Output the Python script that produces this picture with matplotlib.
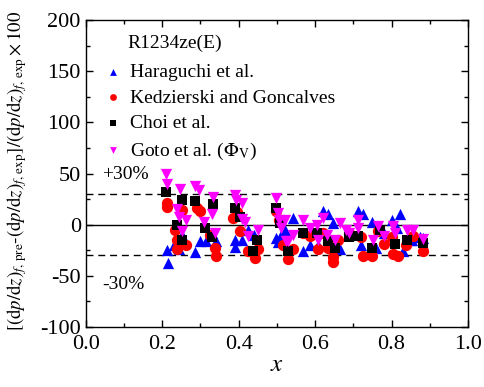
import numpy as np
from matplotlib import pyplot as plt
from matplotlib.ticker import MultipleLocator

plt.rcParams['font.family'] = ['Liberation Serif', 'DejaVu Serif']
plt.rcParams['mathtext.fontset'] = 'stix'
plt.rcParams['axes.unicode_minus'] = False

# Haraguchi et al.
hara_x = [0.212, 0.216, 0.240, 0.245, 0.232, 0.252, 0.286, 0.299, 0.316, 0.330, 0.340,
          0.390, 0.390, 0.408, 0.425, 0.440, 0.499, 0.502, 0.521, 0.512,
          0.543, 0.569, 0.586, 0.608, 0.621, 0.634, 0.647, 0.665, 0.655, 0.690,
          0.713, 0.726, 0.748, 0.800, 0.822, 0.720, 0.760, 0.780, 0.830, 0.850,
          0.815, 0.854, 0.875, 0.883]
hara_y = [-25, -37, -15, -24, -20, -10, -27, -16, -16, -8, -16,
          -15, -22, -15, -5, -10, -13, -17, -5, -10,
          6.5, -26, -19.5, -19.5, 13, 10, 1.6, -24, -22, -10,
          13, 10, 3, 5, 10, -19.5, -23, -8, -26, -15,
          -3, -15, -12, -13]

# Kedzierski and Goncalves
kedz_x = [0.212, 0.214, 0.251, 0.290, 0.299, 0.233, 0.238, 0.240, 0.338, 0.342, 0.325, 0.262,
          0.386, 0.395, 0.403, 0.425, 0.443, 0.451, 0.499, 0.517, 0.505,
          0.530, 0.543, 0.569, 0.586, 0.608, 0.621, 0.634, 0.647, 0.647, 0.660, 0.690,
          0.726, 0.748, 0.765, 0.780, 0.804, 0.817, 0.837, 0.800, 0.857, 0.883, 0.720]
kedz_y = [21, 17, 14.6, 16, 13, -5, -15, -24, -23, -31, -10, -20,
          6.5, 12, -6.5, -26, -33, -24, 13, -19.5, 5,
          -34, -24, -8, -11, -24, -8, -23, -32, -36, -15, -8,
          -31, -31, -6.5, -19, -29, -31, -19.5, -12, -11, -26, -12]

# Choi et al.
choi_x = [0.210, 0.251, 0.286, 0.333, 0.238, 0.312, 0.251, 0.330,
          0.390, 0.403, 0.447, 0.438, 0.499, 0.508,
          0.530, 0.569, 0.604, 0.634, 0.652, 0.690,
          0.713, 0.748, 0.810, 0.840, 0.883, 0.770]
choi_y = [31.5, 24, 23, 20, 0, -3, -15, -12,
          16, 8, -15, -26, 16, 2,
          -26, -8, -8, -16, -23, -12,
          -11, -23, -19, -15, -18, -5]

# Goto et al. (Phi_V)
goto_x = [0.210, 0.214, 0.247, 0.286, 0.297, 0.333, 0.238, 0.309, 0.330, 0.251, 0.338, 0.245, 0.262,
          0.390, 0.392, 0.408, 0.408, 0.416, 0.451, 0.425, 0.499, 0.504, 0.506, 0.525, 0.510,
          0.521, 0.569, 0.586, 0.604, 0.621, 0.630, 0.652, 0.665, 0.682, 0.530, 0.543, 0.608,
          0.713, 0.713, 0.752, 0.765, 0.780, 0.804, 0.810, 0.840, 0.855, 0.883, 0.690]
goto_y = [49.7, 40, 35, 38, 34, 27, 15, 3, 10, -6.5, -8, 8, 5,
          29, 24, 21, 5.5, 3, -5, -11, 26, 11, 5, -16, -3,
          5, 5, -3, 0, 6.5, -10, -15, 1.6, -5, -16, -10, -15,
          5, -3, -15, -1.6, -11, -1.6, -8, -5, -5, -14, -8]

fig = plt.figure(figsize=(4.84, 3.87), dpi=100)
ax = fig.add_axes([0.177, 0.155, 0.790, 0.793])

ms = 66
ax.scatter(hara_x, hara_y, marker='^', s=ms, c='#0000ff', lw=0, label='Haraguchi et al.', zorder=3)
ax.scatter(kedz_x, kedz_y, marker='o', s=ms, c='#ff0000', lw=0, label='Kedzierski and Goncalves', zorder=3)
ax.scatter(choi_x, choi_y, marker='s', s=ms - 14, c='#000000', lw=0, label='Choi et al.', zorder=3)
ax.scatter(goto_x, goto_y, marker='v', s=ms, c='#ff00ff', lw=0,
           label=r'Goto et al. ($\Phi_{\mathrm{V}}$)', zorder=3)

ax.axhline(0, color='k', lw=1.0, zorder=2)
ax.axhline(30, color='k', lw=1.0, ls=(0, (5, 3.5)), zorder=2)
ax.axhline(-30, color='k', lw=1.0, ls=(0, (5, 3.5)), zorder=2)
ax.text(0.043, 49, '+30%', fontsize=14, va='center')
ax.text(0.043, -58, '-30%', fontsize=14, va='center')

ax.set_xlim(0, 1.0)
ax.set_ylim(-100, 200)
ax.xaxis.set_major_locator(MultipleLocator(0.2))
ax.xaxis.set_minor_locator(MultipleLocator(0.1))
ax.yaxis.set_major_locator(MultipleLocator(50))
ax.yaxis.set_minor_locator(MultipleLocator(25))
ax.set_xticklabels([f'{v:.1f}' for v in ax.get_xticks()])
ax.tick_params(which='both', direction='in', top=True, right=True, labelsize=16, width=1)
ax.tick_params(which='major', length=5)
ax.tick_params(which='minor', length=3)
ax.tick_params(axis='x', pad=6)
for s in ax.spines.values():
    s.set_linewidth(1)

ax.set_xlabel(r'$x$', fontsize=18, labelpad=0)
ax.set_ylabel(r'$[(\mathrm{d}p/\mathrm{d}z)_{f,\,\mathrm{pre}}$-$(\mathrm{d}p/\mathrm{d}z)_{f,\,\mathrm{exp}}]/(\mathrm{d}p/\mathrm{d}z)_{f,\,\mathrm{exp}}\times 100$',
              fontsize=13.5)
ax.yaxis.set_label_coords(-0.147, 0.508)

ax.text(0.11, 0.925, 'R1234ze(E)', transform=ax.transAxes, fontsize=14, va='center')
leg = ax.legend(loc='upper left', bbox_to_anchor=(0.02, 0.885), frameon=False, fontsize=14,
                markerscale=0.6, handletextpad=0.3, handlelength=1.2,
                labelspacing=0.42, borderaxespad=0)

plt.savefig('out.png', dpi=100)
